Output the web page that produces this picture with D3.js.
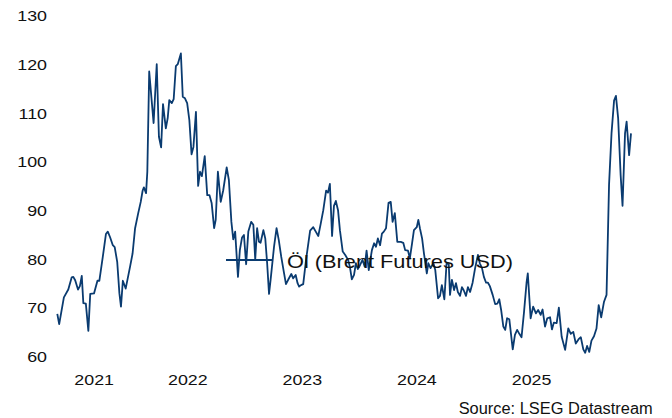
<!DOCTYPE html>
<html>
<head>
<meta charset="utf-8">
<script src="https://cdn.jsdelivr.net/npm/d3@7"></script>
<style>
	body { margin: 0; background: #fff; }
	svg { display: block; font-family: "Liberation Sans", Arial, sans-serif; }
</style>
</head>
<body>
<div id="chart"></div>
<script>
const container = "#chart";
const w = 672, h = 418;

// weekly Brent closes (days after start_date)
const start_date = "2021-05-14";
const day_offsets = [
	0,6,21,35,46,51,57,66,72,78,83,91,99,105,117,128,134,145,155,161,168,177,183,191,198,203,209,218,232,240,248,258,266,272,276,283,287,293,
	307,317,324,331,337,346,352,357,365,371,378,384,394,400,407,414,421,428,434,442,449,455,461,470,478,485,492,500,505,512,521,529,540,547,555,561,567,576,
	582,589,595,602,609,618,625,631,637,643,648,657,663,669,675,680,691,699,706,714,723,729,736,746,752,760,766,771,777,784,793,806,816,824,832,840,848,857,863,869,
	876,882,888,895,901,910,918,927,933,939,946,952,958,965,973,980,986,993,997,1003,1010,1016,1022,1029,1035,1041,1048,1056,1063,1069,
	1076,1084,1095,1103,1109,1118,1124,1131,1137,1146,1151,1156,1163,1169,1178,1183,1190,1199,1205,1214,1220,1226,1234,1241,1248,1252,1258,1265,1271,1277,
	1284,1290,1296,1303,1309,1316,1324,1332,1341,1347,1354,1360,1367,1373,1379,1388,1396,1403,1409,1415,1422,1428,1434,1441,
	1452,1459,1466,1473,1480,1488,1496,1500,1509,1517,1526,1533,1541,1547,1555,1562,1571,1577,1583,1592,1599,1608,1619,1629,1637,1645,1653,1662,1669,1677,
	1683,1689,1696,1703,1711,1719,1726,1734,1743,1751,1759,1767,1775,1781,1788,1796,1802,1810,1815,1823,1829
];
const brent = [
	68.8,66.7,72.2,73.8,76.3,76.4,75.7,73.8,74.5,76.6,71.0,70.9,65.3,72.9,73.0,75.6,75.6,80.5,85.2,85.7,84.6,82.9,82.5,79.5,73.0,70.3,75.6,74.0,78.5,81.2,86.4,89.5,91.8,94.1,94.8,93.6,98.0,118.6,
	108.0,120.1,105.2,103.0,111.9,106.9,109.0,112.7,112.1,112.9,119.7,120.1,122.3,113.4,113.1,112.1,108.6,101.6,103.1,110.3,95.1,98.0,97.1,101.2,93.2,93.2,91.6,86.4,88.1,98.0,91.8,94.2,98.9,96.3,87.7,84.1,85.7,76.4,
	81.9,84.5,85.0,79.0,85.7,87.7,87.1,80.0,86.4,83.6,83.4,86.0,84.3,79.2,72.9,75.8,82.6,86.4,84.0,80.5,77.1,74.9,75.8,77.0,76.1,76.8,75.1,74.4,74.7,74.9,79.9,85.9,86.6,85.7,84.8,87.4,90.1,94.1,93.7,95.5,
	84.8,91.0,92.0,90.1,86.0,81.6,80.9,79.9,78.4,75.9,76.8,79.2,78.0,78.8,79.9,78.5,81.8,77.8,79.5,81.9,83.3,82.6,84.3,82.9,85.3,85.7,86.4,91.6,91.8,87.7,
	89.5,83.6,83.6,83.4,81.9,81.8,80.2,83.3,86.0,86.6,88.1,86.4,84.3,81.2,77.1,79.2,78.2,79.2,77.8,72.0,72.5,74.7,71.8,79.2,79.0,72.7,75.8,73.7,75.1,73.3,
	72.5,74.3,73.6,72.5,74.3,73.3,75.2,78.2,80.9,79.2,78.2,76.4,75.2,75.2,74.5,72.7,70.8,70.9,71.8,69.6,66.2,65.5,67.9,67.7,
	61.5,64.5,65.5,64.7,64.0,69.2,75.2,77.1,67.9,70.3,68.9,69.6,68.6,69.7,66.2,67.9,68.1,65.6,67.0,66.9,70.1,64.1,61.4,65.8,64.7,65.1,62.7,63.6,64.0,61.5,
	60.8,62.2,61.0,63.3,64.2,65.8,70.6,68.1,71.3,72.7,95.3,106.0,112.6,113.6,109.0,97.3,91.0,105.9,108.3,101.4,105.9
];
const y_ticks = [60, 70, 80, 90, 100, 110, 120, 130];
const year_labels = [2021, 2022, 2023, 2024, 2025];
const legend_label = "Öl (Brent Futures USD)";
const source_label = "Source: LSEG Datastream";

let c_line = "#0a3b70",
	c_text = "#111111";

function chart() {

	let start = d3.timeParse("%Y-%m-%d")(start_date);
	let data = day_offsets.map((d, i) => ({
		date: d3.timeDay.offset(start, d),
		value: brent[i]
	}));

	let svg = d3.select(container)
		.append("svg")
		.attr("width", w)
		.attr("height", h);

	// scales
	// ---------------------------
	let x = d3.scaleTime()
		.domain(d3.extent(data, d => d.date))
		.range([57.3, 631]);

	let y = d3.scaleLinear()
		.domain([60, 130])
		.range([356.7, 16]);

	// axis (labels only, no lines)
	// ---------------------------
	let y_axis = svg.append("g")
		.attr("transform", "translate(47,0)")
		.call(d3.axisLeft(y)
			.tickValues(y_ticks)
			.tickSize(0)
			.tickPadding(0)
		);
	y_axis.select(".domain").remove();

	// year labels sit in the middle of the visible part of each year
	let [d0, d1] = x.domain();
	let year_mid = year_labels.map(yr => {
		let a = new Date(Math.max(new Date(yr, 0, 1), d0));
		let b = new Date(Math.min(new Date(yr + 1, 0, 1), d1));
		return new Date((+a + +b) / 2);
	});

	let x_axis = svg.append("g")
		.attr("transform", "translate(0,373.7)")
		.call(d3.axisBottom(x)
			.tickValues(year_mid)
			.tickFormat((d, i) => year_labels[i])
			.tickSize(0)
			.tickPadding(0)
		);
	x_axis.select(".domain").remove();

	svg.selectAll(".tick text")
		.attr("font-family", null)
		.style("font-size", "15.5px")
		.attr("fill", c_text)
		.each(function() {
			this.setAttribute("textLength", this.getComputedTextLength() * 1.15);
			this.setAttribute("lengthAdjust", "spacingAndGlyphs");
		});

	// line
	// ---------------------------
	let line = d3.line()
		.x(d => x(d.date))
		.y(d => y(d.value));

	svg.append("path")
		.datum(data)
		.attr("d", line)
		.attr("fill", "none")
		.attr("stroke", c_line)
		.attr("stroke-width", 1.8)
		.attr("stroke-linejoin", "round");

	// legend
	// ---------------------------
	let legend = svg.append("g")
		.attr("transform", "translate(226,260)");

	legend.append("line")
		.attr("x1", 0)
		.attr("x2", 47)
		.attr("stroke", c_line)
		.attr("stroke-width", 1.8);

	legend.append("text")
		.attr("x", 61)
		.attr("y", 8.3)
		.style("font-size", "18.6px")
		.attr("fill", c_text)
		.attr("textLength", 226)
		.attr("lengthAdjust", "spacingAndGlyphs")
		.text(legend_label);

	// source
	svg.append("text")
		.attr("x", 652.7)
		.attr("y", 414)
		.attr("text-anchor", "end")
		.style("font-size", "15.8px")
		.attr("fill", c_text)
		.attr("textLength", 194)
		.attr("lengthAdjust", "spacingAndGlyphs")
		.text(source_label);
}

window.onload = function() {
	chart();
}
</script>
</body>
</html>
